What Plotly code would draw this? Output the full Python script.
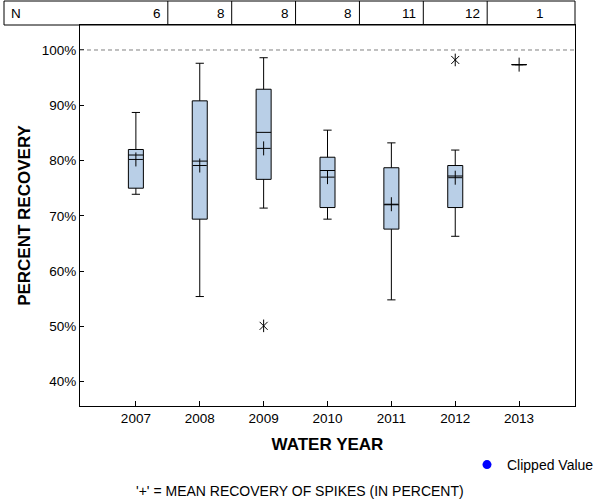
import plotly.graph_objects as go

# ---- data ----
years = [2007, 2008, 2009, 2010, 2011, 2012, 2013]
n_counts = [6, 8, 8, 8, 11, 12, 1]
q1 = [75.0, 69.4, 76.6, 71.5, 67.6, 71.5, 97.35]
median = [81.0, 79.9, 85.1, 78.2, 72.0, 77.2, 97.35]
q3 = [82.0, 90.8, 92.9, 80.6, 78.7, 79.1, 97.35]
lower_whisker = [73.9, 55.4, 71.4, 69.4, 54.8, 66.3, 97.35]
upper_whisker = [88.7, 97.6, 98.6, 85.5, 83.2, 81.9, 97.35]
means = [80.2, 79.1, 82.2, 77.0, 72.1, 76.9, 97.35]
outlier_years = [2009, 2012]
outlier_values = [50.1, 98.2]
reference_value = 100
y_tick_values = [40, 50, 60, 70, 80, 90, 100]
y_tick_labels = ["40%", "50%", "60%", "70%", "80%", "90%", "100%"]

FONT = "Liberation Sans, Arial, sans-serif"
BOX_FILL = "#B9CFE7"

x_range = [2006.125, 2013.875]
y_range = [35.6, 104.52]

fig = go.Figure()

fig.add_trace(go.Box(
    x=years, q1=q1, median=median, q3=q3,
    lowerfence=lower_whisker, upperfence=upper_whisker,
    boxpoints=False, width=0.235, whiskerwidth=0.55,
    fillcolor=BOX_FILL, line=dict(color="black", width=1),
    showlegend=False, hoverinfo="skip",
))

fig.add_trace(go.Scatter(
    x=years, y=means, mode="markers",
    marker=dict(symbol="cross-thin-open", size=10, color="black",
                line=dict(color="black", width=1)),
    showlegend=False, hoverinfo="skip",
))

# outliers drawn as six-armed asterisks
for sym, sz in [("x-thin-open", 8), ("line-ns-open", 9)]:
    fig.add_trace(go.Scatter(
        x=outlier_years, y=outlier_values, mode="markers",
        marker=dict(symbol=sym, size=sz, color="black",
                    line=dict(color="black", width=1)),
        showlegend=False, hoverinfo="skip",
    ))

# legend entry
fig.add_trace(go.Scatter(
    x=[None], y=[None], mode="markers", name="Clipped Value",
    marker=dict(symbol="circle", size=9, color="#0000FF"),
))

# reference line at 100%
fig.add_shape(type="line", xref="paper", yref="y", x0=0, x1=1,
              y0=reference_value, y1=reference_value,
              line=dict(color="#808080", width=1, dash="4px,3px"))

# N table above plot
px_per_year = 495 / (x_range[1] - x_range[0])
tab_top = 1 + 24 / 381
fig.add_shape(type="rect", xref="paper", yref="paper",
              x0=(4 - 80) / 495, x1=1, y0=1, y1=tab_top,
              line=dict(color="black", width=1), fillcolor="rgba(0,0,0,0)")
for yr in years[:-1]:
    fig.add_shape(type="line", xref="x", yref="paper", x0=yr + 0.5, x1=yr + 0.5,
                  y0=1, y1=tab_top, line=dict(color="black", width=1))
annotations = [dict(text="N", xref="paper", yref="paper", x=(9 - 80) / 495,
                    y=(1 + tab_top) / 2, xanchor="left", yanchor="middle",
                    showarrow=False, font=dict(family=FONT, size=13.5, color="black"))]
for yr, n in zip(years, n_counts):
    right = min(yr + 0.5, x_range[1])
    annotations.append(dict(text=str(n), xref="x", yref="paper",
                            x=right - 5 / px_per_year, y=(1 + tab_top) / 2,
                            xanchor="right", yanchor="middle", showarrow=False,
                            font=dict(family=FONT, size=13.5, color="black")))
annotations.append(dict(text="'+' = MEAN RECOVERY OF SPIKES (IN PERCENT)",
                        xref="paper", yref="paper", x=(300 - 80) / 495,
                        y=(406 - 491) / 381, xanchor="center", yanchor="middle",
                        showarrow=False, font=dict(family=FONT, size=14, color="black")))

fig.update_layout(
    width=600, height=500,
    margin=dict(l=80, r=25, t=25, b=94, pad=0, autoexpand=False),
    template="none",
    paper_bgcolor="white", plot_bgcolor="white",
    font=dict(family=FONT, size=13.5, color="black"),
    annotations=annotations,
    showlegend=True,
    legend=dict(x=(467 - 80) / 495, xanchor="left", y=(406 - 465) / 381,
                yanchor="middle", font=dict(family=FONT, size=14, color="black"),
                bgcolor="rgba(0,0,0,0)", borderwidth=0),
    xaxis=dict(range=x_range, tickvals=years, ticktext=[str(y) for y in years],
               ticks="inside", ticklen=5, tickcolor="black", showgrid=False,
               zeroline=False, showline=True, linecolor="black", linewidth=1,
               mirror=True, automargin=False,
               tickfont=dict(family=FONT, size=13.5, color="black"),
               title=dict(text="WATER YEAR", standoff=12,
                          font=dict(family=FONT, size=17, weight="bold", color="black"))),
    yaxis=dict(range=y_range, tickvals=y_tick_values, ticktext=y_tick_labels,
               ticks="inside", ticklen=4, tickcolor="black", showgrid=False,
               zeroline=False, showline=True, linecolor="black", linewidth=1,
               mirror=True, automargin=False,
               tickfont=dict(family=FONT, size=13.5, color="black"),
               title=dict(text="PERCENT RECOVERY", standoff=6,
                          font=dict(family=FONT, size=17, weight="bold", color="black"))),
)

fig.write_html("out.html", config={"displayModeBar": False},
               post_script="document.body.style.margin='0px';")
